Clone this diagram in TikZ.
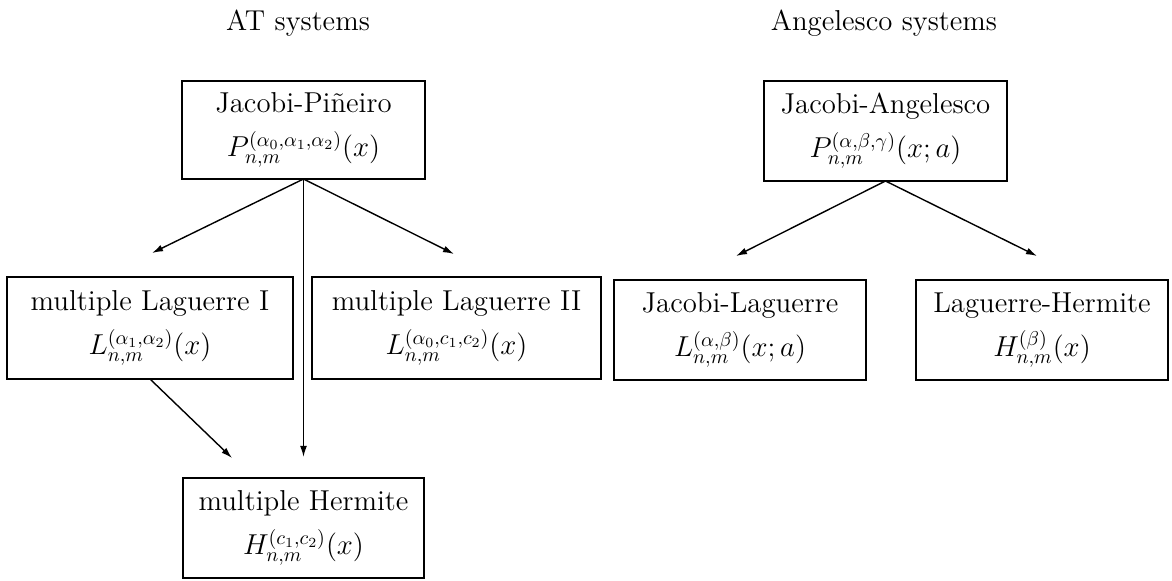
\documentclass[tikz,border=0pt]{standalone}
\usepackage{fontspec}
\usetikzlibrary{arrows.meta}
\begin{document}
\begin{tikzpicture}[x=0.5pt,y=-0.5pt,
  fam/.style={draw, line width=0.8pt, align=center, inner sep=0pt, outer sep=0pt,
    font=\Large, minimum height=50pt},
  head/.style={anchor=base, font=\Large},
  link/.style={line width=0.7pt, -{Latex[length=5.5pt,width=3.4pt]}}]
\useasboundingbox (0,0) rectangle (1172,581);

% column titles
\node[head] (at)  at (298,31) {AT systems};
\node[head] (ang) at (884,31) {Angelesco systems};

% AT systems
\node[fam, minimum width=121.5pt, minimum height=49pt] (jp) at (303.5,130)
  {Jacobi-Piñeiro\\[4pt] $P_{n,m}^{(\alpha_0,\alpha_1,\alpha_2)}(x)$};
\node[fam, minimum width=143pt, minimum height=51pt] (ml1) at (150,328)
  {multiple Laguerre I\\[4pt] $L_{n,m}^{(\alpha_1,\alpha_2)}(x)$};
\node[fam, minimum width=144.5pt, minimum height=51pt] (ml2) at (456.5,328)
  {multiple Laguerre II\\[4pt] $L_{n,m}^{(\alpha_0,c_1,c_2)}(x)$};
\node[fam, minimum width=120.5pt] (mh) at (303.5,528)
  {multiple Hermite\\[4pt] $H_{n,m}^{(c_1,c_2)}(x)$};

% Angelesco systems
\node[fam, minimum width=121.5pt] (ja) at (885.5,131)
  {Jacobi-Angelesco\\[4pt] $P_{n,m}^{(\alpha,\beta,\gamma)}(x;a)$};
\node[fam, minimum width=126pt] (jl) at (740,330)
  {Jacobi-Laguerre\\[4pt] $L_{n,m}^{(\alpha,\beta)}(x;a)$};
\node[fam, minimum width=126pt] (lh) at (1042,330)
  {Laguerre-Hermite\\[4pt] $H_{n,m}^{(\beta)}(x)$};

% free arrow ends
\coordinate (jpL) at (152,253);
\coordinate (jpR) at (454,254);
\coordinate (jpD) at (303.5,457);
\coordinate (mlD) at (232,458);
\coordinate (jaL) at (736,256);
\coordinate (jaR) at (1037,256);

\draw[link] (jp.south) -- (jpL);
\draw[link] (jp.south) -- (jpR);
\draw[link] (jp.south) -- (jpD);
\draw[link] (ml1.south) -- (mlD);
\draw[link] (ja.south) -- (jaL);
\draw[link] (ja.south) -- (jaR);
\end{tikzpicture}
\end{document}
